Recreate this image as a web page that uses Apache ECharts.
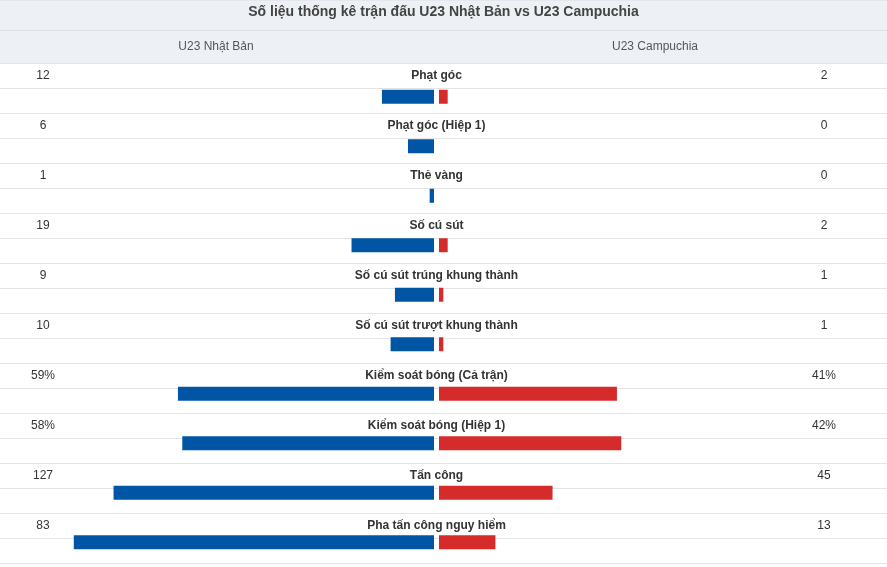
<!DOCTYPE html>
<html>
<head>
<meta charset="utf-8">
<script src="https://cdn.jsdelivr.net/npm/echarts@6/dist/echarts.min.js"></script>
<style>
html,body{margin:0;padding:0;background:#fff;}
#chart{width:887px;height:567px;}
</style>
</head>
<body>
<div id="chart"></div>
<script>
const title = 'Số liệu thống kê trận đấu U23 Nhật Bản vs U23 Campuchia';
const teamHome = 'U23 Nhật Bản';
const teamAway = 'U23 Campuchia';
const categories = ['Phạt góc','Phạt góc (Hiệp 1)','Thẻ vàng','Số cú sút','Số cú sút trúng khung thành','Số cú sút trượt khung thành','Kiểm soát bóng (Cả trận)','Kiểm soát bóng (Hiệp 1)','Tấn công','Pha tấn công nguy hiểm'];
const homeValues = [12, 6, 1, 19, 9, 10, 59, 58, 127, 83];
const awayValues = [2, 0, 0, 2, 1, 1, 41, 42, 45, 13];
const units = ['', '', '', '', '', '', '%', '%', '', ''];

const FONT = '"Liberation Sans", Arial, sans-serif';
const homeLabels = homeValues.map((v, i) => v + units[i]);
const awayLabels = awayValues.map((v, i) => v + units[i]);
// bar length: raw value if the pair fits in 100, otherwise share of the total
function scaled(v, i) {
  const s = homeValues[i] + awayValues[i];
  return s > 100 ? v / s * 100 : v;
}
const homeBars = homeValues.map((v, i) => scaled(v, i));
const awayBars = awayValues.map((v, i) => scaled(v, i));

const W = 887;
const graphics = [
  { type: 'rect', shape: { x: 0, y: 0, width: W, height: 63 }, style: { fill: '#edf1f5' }, silent: true, z: -10 }
];
graphics.push({ type: 'line', shape: { x1: 0, y1: 0.5, x2: W, y2: 0.5 }, style: { stroke: '#e4e8ec', lineWidth: 1 }, silent: true, z: -5 });
graphics.push({ type: 'line', shape: { x1: 0, y1: 30.5, x2: W, y2: 30.5 }, style: { stroke: '#dde1e6', lineWidth: 1 }, silent: true, z: -5 });
for (let k = 0; k <= categories.length * 2; k++) {
  const y = 63.5 + 25 * k;
  graphics.push({ type: 'line', shape: { x1: 0, y1: y, x2: W, y2: y }, style: { stroke: '#e2e4e7', lineWidth: 1 }, silent: true, z: -5 });
}
graphics.push({ type: 'text', x: 216, y: 46.5, style: { text: teamHome, fill: '#555', font: '12px ' + FONT, textAlign: 'center', textVerticalAlign: 'middle' }, silent: true });
graphics.push({ type: 'text', x: 655, y: 46.5, style: { text: teamAway, fill: '#555', font: '12px ' + FONT, textAlign: 'center', textVerticalAlign: 'middle' }, silent: true });

const textAxisBase = {
  type: 'category', inverse: true, gridIndex: 2,
  axisLine: { show: false }, axisTick: { show: false }, splitLine: { show: false }
};

const option = {
  animation: false,
  backgroundColor: '#fff',
  title: {
    text: title, left: 'center', top: 0,
    textStyle: { fontSize: 14, fontWeight: 'bold', color: '#444', fontFamily: FONT }
  },
  graphic: graphics,
  grid: [
    { left: 0, top: 72, width: 434, height: 500 },
    { left: 439, top: 72, width: 434, height: 500 },
    { left: 43, top: 51, width: 781, height: 500 }
  ],
  xAxis: [
    { type: 'value', gridIndex: 0, min: 0, max: 100, inverse: true, show: false },
    { type: 'value', gridIndex: 1, min: 0, max: 100, show: false },
    { type: 'value', gridIndex: 2, min: 0, max: 1, show: false }
  ],
  yAxis: [
    { type: 'category', gridIndex: 0, inverse: true, data: categories, show: false },
    { type: 'category', gridIndex: 1, inverse: true, data: categories, show: false },
    Object.assign({}, textAxisBase, { position: 'left', data: homeLabels,
      axisLabel: { align: 'center', margin: 0, color: '#333', fontSize: 12, fontFamily: FONT } }),
    Object.assign({}, textAxisBase, { position: 'right', data: awayLabels,
      axisLabel: { align: 'center', margin: 0, color: '#333', fontSize: 12, fontFamily: FONT } }),
    Object.assign({}, textAxisBase, { position: 'left', offset: -393.5, data: categories,
      axisLabel: { align: 'center', margin: 0, color: '#333', fontSize: 12, fontWeight: 'bold', fontFamily: FONT } })
  ],
  series: [
    { type: 'bar', name: teamHome, xAxisIndex: 0, yAxisIndex: 0, data: homeBars, barWidth: 14,
      itemStyle: { color: '#0055a4' }, silent: true },
    { type: 'bar', name: teamAway, xAxisIndex: 1, yAxisIndex: 1, data: awayBars, barWidth: 14,
      itemStyle: { color: '#d62b2b' }, silent: true }
  ]
};

const chart = echarts.init(document.getElementById('chart'), null, { renderer: 'canvas' });
chart.setOption(option);
</script>
</body>
</html>
